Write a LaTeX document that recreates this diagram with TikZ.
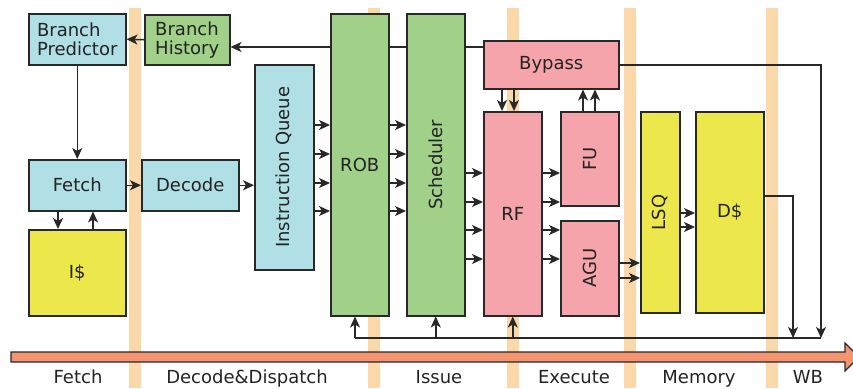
\documentclass[tikz,border=0pt]{standalone}
\usepackage{fontspec}
\setmainfont{DejaVu Sans}
\usepackage{graphicx}
\usetikzlibrary{arrows.meta,backgrounds}
\definecolor{qblue}{RGB}{176,223,230}
\definecolor{qgreen}{RGB}{161,208,136}
\definecolor{qpink}{RGB}{245,164,171}
\definecolor{qyellow}{RGB}{236,231,74}
\definecolor{qbar}{RGB}{250,216,170}
\definecolor{qarrow}{RGB}{245,148,112}
\definecolor{qline}{RGB}{40,40,40}
\definecolor{qtext}{RGB}{35,35,35}
\tikzset{
  tip/.tip={Stealth[length=11pt,width=10pt,inset=3pt]},
  blk/.style={draw=qline, line width=1.5pt, anchor=north west, inner sep=0pt,
    text=qtext, font=\fontsize{18}{19}\selectfont},
  wire/.style={draw=qline, line width=1.5pt},
  arr/.style={wire, -tip},
  stage/.style={anchor=base, text=qtext, inner sep=0pt, font=\fontsize{18}{19}\selectfont}
}
\begin{document}
\begin{tikzpicture}[x=1pt,y=-1pt]
\useasboundingbox (0,0) rectangle (853,388);

% pipeline units
\node[blk, fill=qblue, minimum width=97pt, minimum height=51pt, align=left] (bp) at (28,13) {Branch\\Predictor};
\node[blk, fill=qgreen, minimum width=85pt, minimum height=50pt, align=left] (bh) at (144,14) {Branch\\History};
\node[blk, fill=qblue, minimum width=97pt, minimum height=51pt] (fe) at (28,159) {Fetch};
\node[blk, fill=qyellow, minimum width=97pt, minimum height=86pt] (ic) at (28,229) {I\$};
\node[blk, fill=qblue, minimum width=97pt, minimum height=51pt] (de) at (141,159) {Decode};
\node[blk, fill=qblue, minimum width=59pt, minimum height=205pt] (iq) at (254,64) {\rotatebox{90}{Instruction Queue}};
\node[blk, fill=qgreen, minimum width=58pt, minimum height=302pt] (rob) at (330,13) {ROB};
\node[blk, fill=qgreen, minimum width=58pt, minimum height=302pt] (sch) at (406,13) {\rotatebox{90}{Scheduler}};
\node[blk, fill=qpink, minimum width=135pt, minimum height=48pt] (byp) at (483,40) {Bypass};
\node[blk, fill=qpink, minimum width=58pt, minimum height=204pt] (rf) at (483,111) {RF};
\node[blk, fill=qpink, minimum width=58pt, minimum height=94pt] (fu) at (560,111) {\rotatebox{90}{FU}};
\node[blk, fill=qpink, minimum width=58pt, minimum height=95pt] (agu) at (560,220) {\rotatebox{90}{AGU}};
\node[blk, fill=qyellow, minimum width=39pt, minimum height=201pt] (lsq) at (640,111) {\rotatebox{90}{LSQ}};
\node[blk, fill=qyellow, minimum width=68pt, minimum height=201pt] (dc) at (695,111) {D\$};

% stage separators and the redirect path behind the units
\begin{pgfonlayer}{background}
  \foreach \x in {129,368,507,624,766}
    \fill[qbar] (\x,8) rectangle ++(12,380);
  \draw[arr] (byp.west |- 0,47) -- (bh.east |- 0,47);
\end{pgfonlayer}

% front end
\draw[arr] (bh.west) -- (bp.east);
\draw[arr] (bp.south) -- (fe.north);
\draw[arr] (fe.south -| 58,0) -- (ic.north -| 58,0);
\draw[arr] (ic.north -| 93,0) -- (fe.south -| 93,0);
\draw[arr] (fe.east) -- (de.west);
\draw[arr] (de.east) -- (iq.west |- de.east);

% dispatch and issue
\foreach \y in {125,154,183,211} {
  \draw[arr] (iq.east |- 0,\y) -- (rob.west |- 0,\y);
  \draw[arr] (rob.east |- 0,\y) -- (sch.west |- 0,\y);
}
\foreach \y in {173,202,230,259}
  \draw[arr] (sch.east |- 0,\y) -- (rf.west |- 0,\y);
\foreach \y in {173,202}
  \draw[arr] (rf.east |- 0,\y) -- (fu.west |- 0,\y);
\foreach \y in {230,259}
  \draw[arr] (rf.east |- 0,\y) -- (agu.west |- 0,\y);

% bypass network
\foreach \x in {502,514}
  \draw[arr] (byp.south -| \x,0) -- (rf.north -| \x,0);
\foreach \x in {583,595}
  \draw[arr] (fu.north -| \x,0) -- (byp.south -| \x,0);

% memory
\foreach \y in {263,278}
  \draw[arr] (agu.east |- 0,\y) -- (lsq.west |- 0,\y);
\foreach \y in {213,227}
  \draw[arr] (lsq.east |- 0,\y) -- (dc.west |- 0,\y);

% write-back
\coordinate (fbL) at (355,338);
\coordinate (fbD) at (793,338);
\coordinate (fbR) at (821,338);
\draw[arr] (byp.east) -| (fbR);
\draw[arr] (dc.east |- 0,196) -| (fbD);
\draw[wire] (fbL) -- (fbR);
\draw[arr] (fbL) -- (fbL |- rob.south);
\draw[arr] (sch.south |- fbL) -- (sch.south);
\draw[arr] (rf.south |- fbL) -- (rf.south);

% time line
\draw[qline, line width=1.2pt, fill=qarrow]
  (11,352) -- (845,352) -- (845,343) -- (859,357) -- (845,371) -- (845,362) -- (11,362) -- cycle;
\node[stage] (sFetch) at (78,383) {Fetch};
\node[stage] (sDec) at (247,383) {Decode\&Dispatch};
\node[stage] (sIss) at (439,383) {Issue};
\node[stage] (sExe) at (574,383) {Execute};
\node[stage] (sMem) at (699,383) {Memory};
\node[stage] (sWB) at (808,383) {WB};
\end{tikzpicture}
\end{document}
